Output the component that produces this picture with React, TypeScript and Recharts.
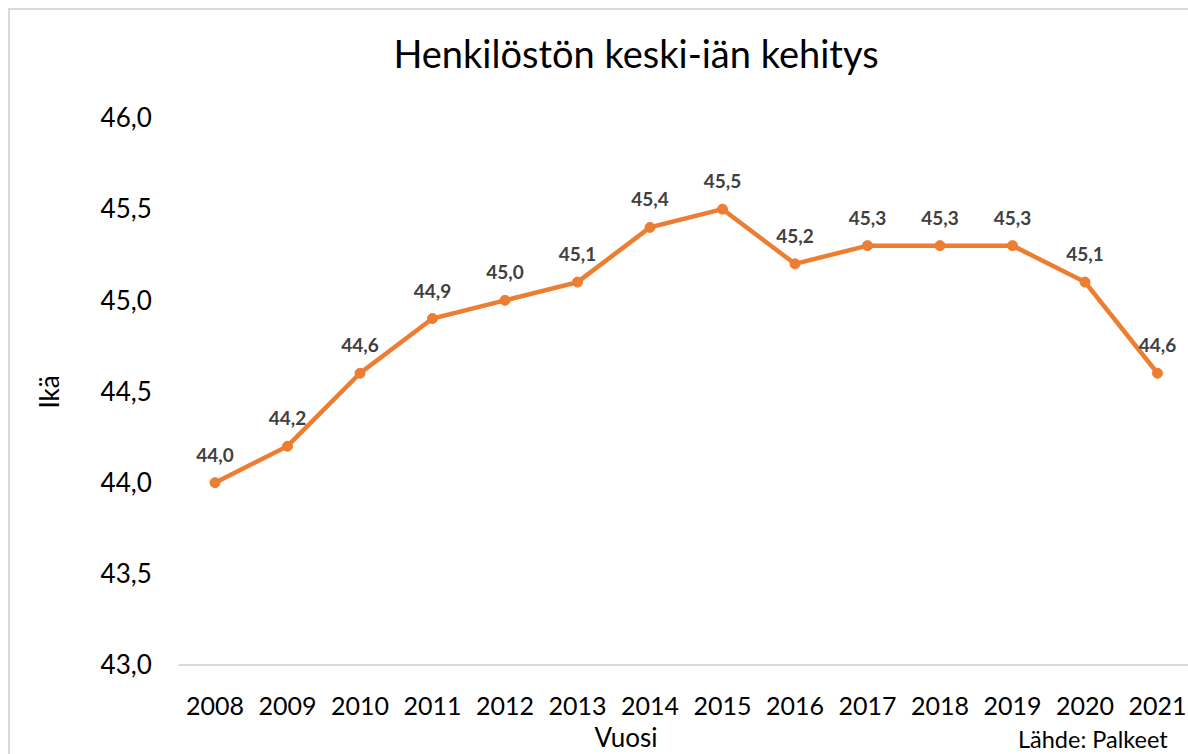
import React from 'react';
import { LineChart, Line, XAxis, YAxis, CartesianGrid, LabelList } from 'recharts';

const years = ['2008', '2009', '2010', '2011', '2012', '2013', '2014', '2015', '2016', '2017', '2018', '2019', '2020', '2021'];
const averageAge = [44.0, 44.2, 44.6, 44.9, 45.0, 45.1, 45.4, 45.5, 45.2, 45.3, 45.3, 45.3, 45.1, 44.6];
const yTicks = [43.0, 43.5, 44.0, 44.5, 45.0, 45.5, 46.0];

const title = 'Henkilöstön keski-iän kehitys';
const xTitle = 'Vuosi';
const yTitle = 'Ikä';
const source = 'Lähde: Palkeet';

const data = years.map((y, i) => ({ year: y, age: averageAge[i] }));

const FONT = 'Lato, "Open Sans", sans-serif';
const fmt = (v: number) => v.toFixed(1).replace('.', ',');

const DataLabel = (props: any) => {
  const { x, y, value } = props;
  return (
    <text x={x} y={y - 21} textAnchor="middle" fill="#404040" fontFamily={FONT} fontWeight={700} fontSize={19}>
      {fmt(value)}
    </text>
  );
};

export default function App() {
  return (
    <div style={{ position: 'absolute', left: 0, top: 0, width: 1188, height: 754, overflow: 'hidden', background: '#fff' }}>
      <div style={{ position: 'absolute', left: 8, top: 8, width: 1240, height: 800, border: '2px solid #d9d9d9', boxSizing: 'border-box', background: '#fff' }}>
        <div style={{ position: 'absolute', left: 0, top: 0 }}>
          <LineChart width={1230} height={760} data={data} margin={{ top: 108, right: 46.25, left: 0, bottom: 45 }}>
            <CartesianGrid horizontal={false} vertical={false} />
            <XAxis
              dataKey="year"
              padding={{ left: 36.25, right: 36.25 }}
              axisLine={{ stroke: '#d9d9d9', strokeWidth: 2 }}
              tickLine={false}
              tickSize={0}
              tickMargin={32}
              height={60}
              tick={{ fill: '#000', fontFamily: FONT, fontSize: 25 }}
              interval={0}
            />
            <YAxis
              domain={[43, 46]}
              ticks={yTicks}
              tickFormatter={fmt}
              axisLine={false}
              tickLine={false}
              tickSize={0}
              tickMargin={27}
              width={168.75}
              tick={{ fill: '#000', fontFamily: FONT, fontSize: 26 }}
              interval={0}
            />
            <Line
              dataKey="age"
              stroke="#ED7D31"
              strokeWidth={4.5}
              dot={{ r: 5, fill: '#ED7D31', stroke: '#ED7D31', strokeWidth: 1 }}
              isAnimationActive={false}
            >
              <LabelList dataKey="age" content={DataLabel} />
            </Line>
            <text x={626} y={58} textAnchor="middle" fontFamily={FONT} fontSize={38} fill="#000">{title}</text>
            <text x={616} y={737} textAnchor="middle" fontFamily={FONT} fontSize={26} fill="#000">{xTitle}</text>
            <text x={38.5} y={382} textAnchor="middle" dominantBaseline="central" transform="rotate(-90 38.5 382)" fontFamily={FONT} fontSize={26} fill="#000">{yTitle}</text>
            <text x={1008} y={738} textAnchor="start" fontFamily={FONT} fontSize={23.5} fill="#000">{source}</text>
          </LineChart>
        </div>
      </div>
    </div>
  );
}
